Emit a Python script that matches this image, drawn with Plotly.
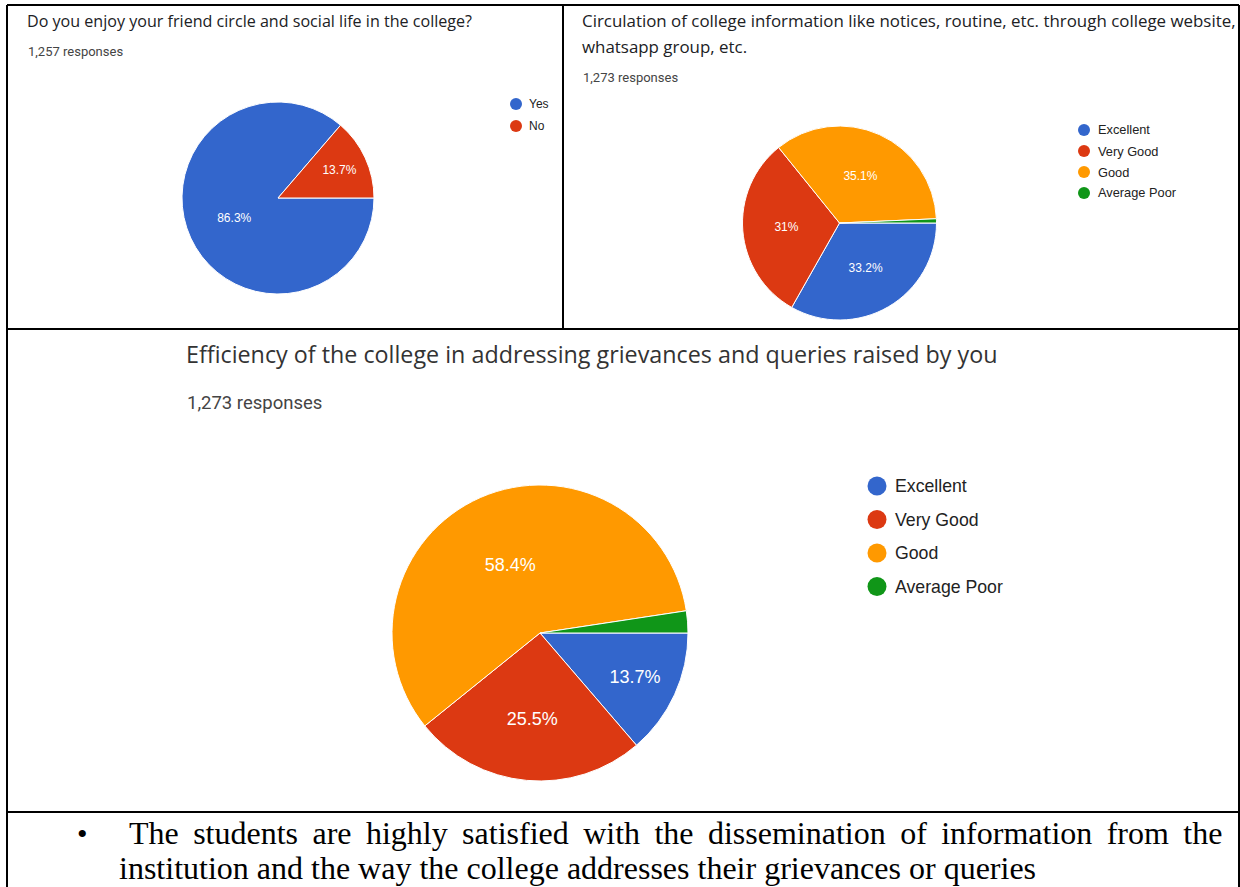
import plotly.graph_objects as go

W, H = 1240, 887

# ---- data ----
q1_title = "Do you enjoy your friend circle and social life in the college?"
q1_responses = "1,257 responses"
q1_labels = ["Yes", "No"]
q1_values = [86.3, 13.7]

q2_title_lines = ["Circulation of college information like notices, routine, etc. through college website,",
                  "whatsapp group, etc."]
q2_responses = "1,273 responses"
q2_labels = ["Excellent", "Very Good", "Good", "Average Poor"]
q2_values = [33.2, 31.0, 35.1, 0.7]

q3_title = "Efficiency of the college in addressing grievances and queries raised by you"
q3_responses = "1,273 responses"
q3_labels = ["Excellent", "Very Good", "Good", "Average Poor"]
q3_values = [13.7, 25.5, 58.4, 2.4]

bullet_lines = ["The students are highly satisfied with the dissemination of information from the",
                "institution and the way the college addresses their grievances or queries"]

colors = ["#3366CC", "#DC3912", "#FF9900", "#109618"]


def X(px):
    return px / W


def Y(py):
    return 1 - py / H


def pct_text(values, min_show=1.0):
    return [f"{v:g}%" if v >= min_show else "" for v in values]


fig = go.Figure()


def add_pie(labels, values, cx, cy, r, fsize, min_show):
    fig.add_trace(go.Pie(
        labels=labels, values=values, sort=False, direction="clockwise", rotation=90,
        marker=dict(colors=colors[:len(labels)], line=dict(color="white", width=1)),
        text=pct_text(values, min_show), textinfo="text", textposition="inside",
        insidetextorientation="horizontal",
        textfont=dict(family="Liberation Sans, Arial", size=fsize, color="white"),
        domain=dict(x=[X(cx - r), X(cx + r)], y=[Y(cy + r), Y(cy - r)]),
        showlegend=False, hoverinfo="label+percent",
    ))


add_pie(q1_labels, q1_values, 278, 198, 96, 12, 1.0)
add_pie(q2_labels, q2_values, 839.5, 223, 97, 12, 1.0)
add_pie(q3_labels, q3_values, 540, 633, 148, 18, 3.0)

annotations = []
shapes = []


def text(px, py, s, size, color="#202124", family="Roboto, Arial", anchor="left"):
    annotations.append(dict(x=X(px), y=Y(py), xref="paper", yref="paper", text=s, showarrow=False,
                            xanchor=anchor, yanchor="middle",
                            font=dict(family=family, size=size, color=color)))


def legend(labels, cx, y0, dy, rad, tx, fsize):
    for i, lab in enumerate(labels):
        yy = y0 + i * dy
        shapes.append(dict(type="circle", xref="paper", yref="paper",
                           x0=X(cx - rad), x1=X(cx + rad), y0=Y(yy + rad), y1=Y(yy - rad),
                           fillcolor=colors[i], line=dict(width=0)))
        text(tx, yy, lab, fsize, color="#222222", family="Liberation Sans, Arial")


# titles
title_font = "Open Sans, Roboto, Arial"
text(25, 21, q1_title, 16.1, family=title_font)
text(26, 52, q1_responses, 13, color="#444444")
text(580, 21, q2_title_lines[0], 16.9, family=title_font)
text(580, 47, q2_title_lines[1], 16.9, family=title_font)
text(581, 78, q2_responses, 13, color="#444444")
text(184, 354, q3_title, 23.3, family=title_font, color="#333333")
text(185, 403, q3_responses, 18.5, color="#444444")

# legends
legend(q1_labels, 516, 104, 22, 6, 527, 12)
legend(q2_labels, 1084, 130, 21, 6, 1096, 12.8)
legend(q3_labels, 877, 486, 33.5, 9.5, 893, 17.7)

# bullet text (line 1 is justified in the reference: widen the word gaps)
serif = "Liberation Serif, Times New Roman"
text(75, 833, "•", 30, color="black", family=serif)
text(127, 833, bullet_lines[0].replace(" ", " \u2009"), 32, color="black", family=serif)
text(117, 868, bullet_lines[1], 32, color="black", family=serif)

# table borders
def line(x0, y0, x1, y1):
    shapes.append(dict(type="line", xref="paper", yref="paper",
                       x0=X(x0), y0=Y(y0), x1=X(x1), y1=Y(y1),
                       line=dict(color="black", width=2)))


line(7, 5, 1239, 5)
line(7, 5, 7, 887)
line(1239, 5, 1239, 887)
line(7, 329, 1239, 329)
line(563, 5, 563, 329)
line(7, 812, 1239, 812)

fig.update_layout(
    width=W, height=H, margin=dict(l=0, r=0, t=0, b=0),
    paper_bgcolor="white", plot_bgcolor="white",
    annotations=annotations, shapes=shapes, showlegend=False,
)

fig.write_html(
    "out.html",
    config={"displayModeBar": False},
    post_script="document.body.style.margin='0px';document.body.style.padding='0px';"
                "document.body.style.overflow='hidden';",
)
